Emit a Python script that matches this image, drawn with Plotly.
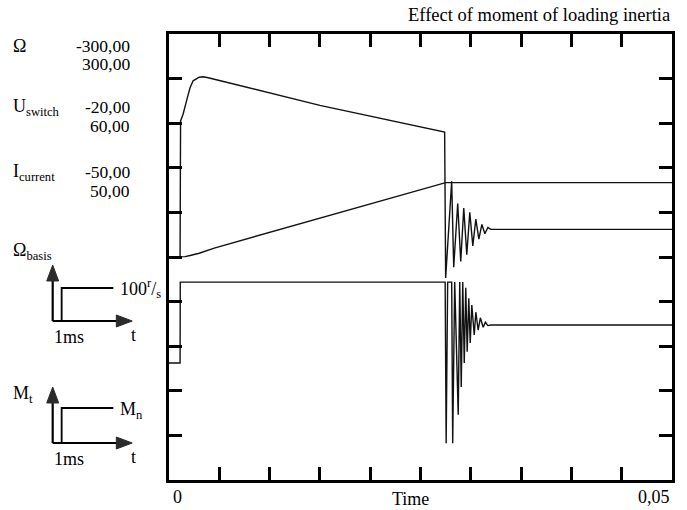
import numpy as np
import plotly.graph_objects as go

# ---- recorded channels (time in ms) ----
# motor speed, r/s
omega_t = [0, 1.1, 1.6, 2.1, 3.0, 4.5, 27.5, 50]
omega_v = [0, 0, 0.5, 2, 5, 12, 100, 100]

# motor current, A
cur_t = [0, 1.1, 1.15, 1.4, 1.8, 2.1, 2.4, 3.0, 3.4, 3.9, 15.0, 27.4, 27.5,
         28.1, 28.3, 28.7, 29.0, 29.3, 29.6, 29.9, 30.2, 30.5, 30.8, 31.1,
         31.4, 31.7, 32.0, 50]
cur_v = [0, 0, 30.5, 32, 35.5, 38, 39.5, 40.3, 40.4, 40.2, 34.0, 28.0, -4.7,
         17.0, -2.3, 12.0, -1.0, 11.0, 0.5, 10.0, 2.5, 8.5, 4.0, 7.3,
         5.2, 6.6, 6.2, 6.2]

# switch voltage, V
usw_t = [0, 1.1, 1.12, 27.45, 27.55, 27.7, 28.1, 28.2, 28.4, 28.75, 28.9,
         29.05, 29.2, 29.35, 29.5, 29.64, 29.8, 29.94, 30.1, 30.34, 30.5,
         30.73, 30.95, 31.23, 31.45, 31.7, 32.0, 50]
usw_v = [1.0, 1.0, 15.5, 15.5, -13.4, 15.5, 15.5, -13.4, 15.5, -8.3, 15.5,
         -3.3, 15.5, 1.0, 14.5, 3.0, 12.6, 4.6, 11.4, 6.0, 10.1,
         6.9, 9.1, 7.4, 8.3, 7.7, 7.8, 7.8]

# channel scales shown at the left
channel_names = ["Ω", "U<sub>switch</sub>", "I<sub>current</sub>"]
channel_lo = ["-300,00", "-20,00", "-50,00"]
channel_hi = ["300,00", "60,00", "50,00"]
omega_range = [-300, 300]
usw_range = [-20, 60]
cur_range = [-50, 50]

t_end = 0.05
x_ticks = [0.005 * k for k in range(1, 10)]
y_ticks = [-240 + 60 * k for k in range(9)]

# ---- geometry (pixels) ----
W, H = 687, 510
L, R, T, B = 169, 675, 34, 480


def px(x):
    return (x - L) / (R - L)


def py(y):
    return (B - y) / (B - T)


FONT = "Liberation Serif, Times New Roman, serif"
INK = "#111111"

fig = go.Figure()
line = dict(color=INK, width=1.4)
fig.add_trace(go.Scatter(x=np.array(omega_t) / 1000, y=omega_v, mode="lines",
                         line=line, yaxis="y", hoverinfo="skip"))
fig.add_trace(go.Scatter(x=np.array(cur_t) / 1000, y=cur_v, mode="lines",
                         line=line, yaxis="y2", hoverinfo="skip"))
fig.add_trace(go.Scatter(x=np.array(usw_t) / 1000, y=usw_v, mode="lines",
                         line=line, yaxis="y3", hoverinfo="skip"))

axis_common = dict(showline=True, mirror="ticks", linewidth=2.6, linecolor="black",
                   ticks="inside", ticklen=13, tickwidth=2.6, tickcolor="black",
                   showticklabels=False, showgrid=False, zeroline=False,
                   fixedrange=True)

annotations = []


def text(s, x, y, size=18, xanchor="left", yanchor="middle"):
    annotations.append(dict(text=s, x=px(x), y=py(y), xref="paper", yref="paper",
                            showarrow=False, xanchor=xanchor, yanchor=yanchor,
                            borderpad=0,
                            font=dict(family=FONT, size=size, color="black")))


# title
text("Effect of moment of loading inertia", 674, 15, size=18.5, xanchor="right")

# channel labels and scale values
name_y = [46, 107, 172]
hi_y = [64, 126, 191]
for name, lo, hi, ny, hy in zip(channel_names, channel_lo, channel_hi, name_y, hi_y):
    text(name, 11, ny)
    text(lo, 131, ny, size=17.5, xanchor="right")
    text(hi, 131, hy, size=17.5, xanchor="right")

# time axis labels
text("0", 178, 497, xanchor="center")
text("Time", 412, 499, xanchor="center")
text("0,05", 657, 497, xanchor="center")

# step input sketches
shapes = []


def seg(pts, width=2.2):
    path = "M " + " L ".join(f"{px(x):.5f},{py(y):.5f}" for x, y in pts)
    shapes.append(dict(type="path", path=path, xref="paper", yref="paper",
                       line=dict(color="black", width=width)))


def tri(pts):
    path = "M " + " L ".join(f"{px(x):.5f},{py(y):.5f}" for x, y in pts) + " Z"
    shapes.append(dict(type="path", path=path, xref="paper", yref="paper",
                       fillcolor="#2b2b2b", line=dict(color="#2b2b2b", width=1)))


def step_sketch(base_y, step_y, label, label_y, level, level_y):
    ax = 52
    seg([(ax, base_y), (ax, base_y - 42)])
    tri([(ax, base_y - 56), (ax - 6, base_y - 40), (ax + 6, base_y - 40)])
    seg([(ax, base_y), (ax + 66, base_y)])
    tri([(ax + 80, base_y), (ax + 64, base_y - 6), (ax + 64, base_y + 6)])
    seg([(61, base_y), (61, step_y), (113, step_y)], width=1.8)
    text(label, 11, label_y)
    text(level, 119, level_y)
    text("1ms", 68, base_y + 16, xanchor="center")
    text("t", 133, base_y + 14, xanchor="center")


step_sketch(321, 288, "Ω<sub>basis</sub>", 252, "100<sup>r</sup>/<sub>s</sub>", 288)
step_sketch(443, 408, "M<sub>t</sub>", 394, "M<sub>n</sub>", 410)

fig.update_layout(
    width=W, height=H, autosize=False,
    margin=dict(l=L, r=W - R, t=T, b=H - B, pad=0),
    paper_bgcolor="white", plot_bgcolor="white",
    showlegend=False,
    xaxis=dict(range=[0, t_end], tickvals=x_ticks, **axis_common),
    yaxis=dict(range=omega_range, tickvals=y_ticks, **axis_common),
    yaxis2=dict(range=cur_range, overlaying="y", visible=False, fixedrange=True),
    yaxis3=dict(range=usw_range, overlaying="y", visible=False, fixedrange=True),
    annotations=annotations,
    shapes=shapes,
)

fig.write_html("out.html")
